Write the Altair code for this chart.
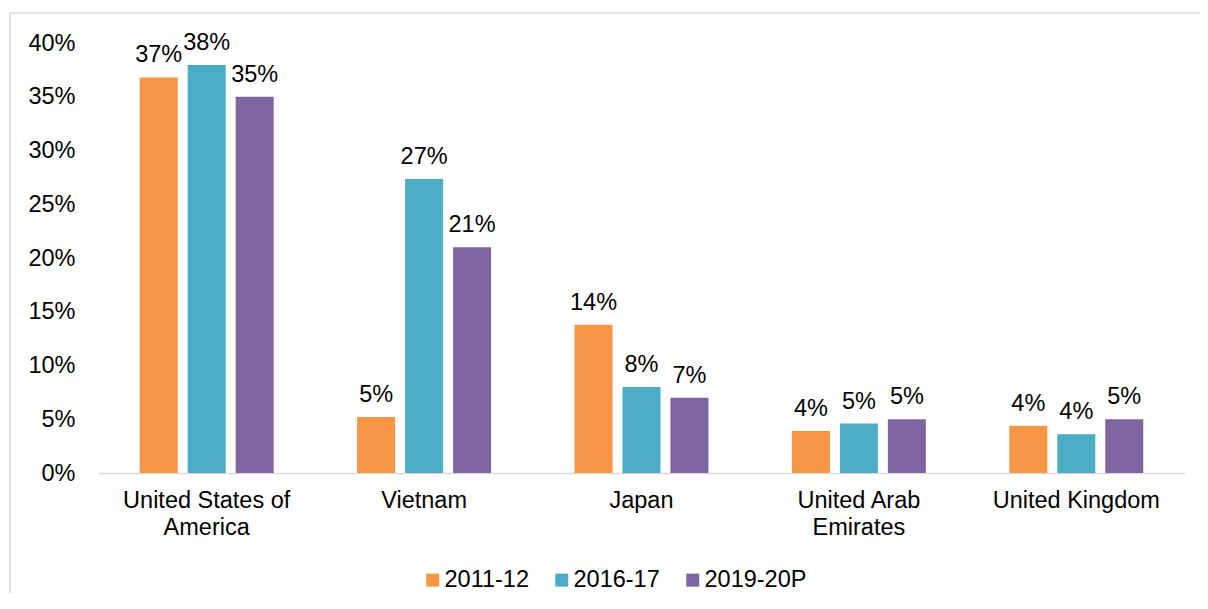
import altair as alt
import pandas as pd

countries = ["United States of America", "Vietnam", "Japan", "United Arab Emirates", "United Kingdom"]
years = ["2011-12", "2016-17", "2019-20P"]
v_2011 = [0.368, 0.052, 0.138, 0.039, 0.044]
v_2016 = [0.3795, 0.2735, 0.080, 0.046, 0.036]
v_2019 = [0.350, 0.210, 0.070, 0.050, 0.050]
colors = ["#F79646", "#4BACC6", "#8064A2"]

rows = []
for i, c in enumerate(countries):
    for y, vals in zip(years, [v_2011, v_2016, v_2019]):
        rows.append({"country": c, "year": y, "value": vals[i]})
df = pd.DataFrame(rows)

FONT = "Liberation Sans"
FS = 23.5
W, H = 1087, 430

label_expr = ("datum.value == 'United States of America' ? ['United States of', 'America'] : "
              "datum.value == 'United Arab Emirates' ? ['United Arab', 'Emirates'] : datum.value")

x = alt.X("country:N", sort=countries, title=None,
          scale=alt.Scale(paddingInner=0.384, paddingOuter=0.192),
          axis=alt.Axis(labelAngle=0, ticks=False, domainColor="#D9D9D9", domainWidth=1.5,
                        labelFont=FONT, labelFontSize=FS, labelColor="#000000",
                        labelPadding=15, labelLineHeight=27, labelExpr=label_expr,
                        labelBaseline="top"))
xo = alt.XOffset("year:N", sort=years, scale=alt.Scale(paddingInner=0.208, paddingOuter=0))
y = alt.Y("value:Q", title=None,
          scale=alt.Scale(domain=[0, 0.4], nice=False),
          axis=alt.Axis(format=".0%", values=[i * 0.05 for i in range(9)], grid=False,
                        domain=False, ticks=False, labelPadding=23,
                        labelFont=FONT, labelFontSize=FS, labelColor="#000000"))
color = alt.Color("year:N", sort=years, title=None,
                  scale=alt.Scale(domain=years, range=colors),
                  legend=alt.Legend(orient="none", legendX=323, legendY=525, direction="horizontal",
                                    symbolType="square", symbolSize=169, symbolStrokeWidth=0,
                                    labelFont=FONT, labelFontSize=FS, labelColor="#000000",
                                    labelOffset=0, columnPadding=21, symbolOpacity=1))

base = alt.Chart(df)
bars = base.mark_bar().encode(x=x, xOffset=xo, y=y, color=color)
labels = base.mark_text(baseline="alphabetic", dy=-15, font=FONT, fontSize=FS, color="#000000").encode(
    x=x, xOffset=xo, y=y, text=alt.Text("value:Q", format=".0%"))

one = pd.DataFrame({"a": [0]})
top_line = alt.Chart(one).mark_rule(color="#D9D9D9", strokeWidth=1.5).encode(
    x=alt.value(-88), x2=alt.value(1140), y=alt.value(-30))
left_line = alt.Chart(one).mark_rule(color="#D9D9D9", strokeWidth=1.5).encode(
    x=alt.value(-88), y=alt.value(-30), y2=alt.value(640))

chart = alt.layer(top_line, left_line, bars, labels).properties(
    width=W, height=H,
    background="white",
    autosize=alt.AutoSizeParams(type="none"),
    padding={"left": 90, "top": 35, "right": 15, "bottom": 120},
).configure_view(stroke=None, strokeWidth=0)

chart.save("out.html", embed_options={"renderer": "svg", "actions": False})
